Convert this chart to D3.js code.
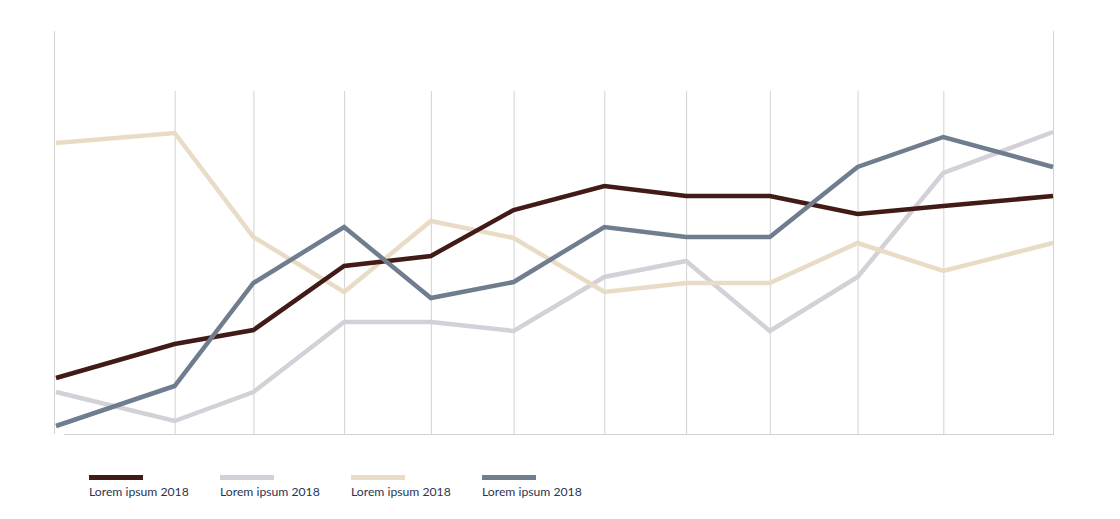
<!DOCTYPE html>
<html>
<head>
<meta charset="utf-8">
<script src="https://cdn.jsdelivr.net/npm/d3@7"></script>
<style>
  html, body { margin: 0; padding: 0; background: #fff; }
  svg { display: block; }
</style>
</head>
<body>
<svg id="chart" width="1120" height="519"></svg>
<script>
// ---- data ----
const xValues = [0, 11.9, 19.8, 28.9, 37.6, 45.9, 55.0, 63.2, 71.6, 80.4, 89.0, 100];
const seriesNames = ["Lorem ipsum 2018", "Lorem ipsum 2018", "Lorem ipsum 2018", "Lorem ipsum 2018"];
const seriesColors = ["#421a17", "#d3d0d8", "#e9dcc6", "#6f7d8f"];
const seriesDark     = [14, 22.5, 26, 42, 44.5, 56, 62, 59.5, 59.5, 55, 57, 59.5];
const seriesLavender = [10.5, 3.25, 10.5, 28, 28, 25.75, 39.25, 43.25, 25.75, 39.25, 65.25, 75.5];
const seriesBeige    = [72.75, 75.25, 49.25, 35.5, 53.25, 49, 35.5, 37.75, 37.75, 47.75, 40.75, 47.75];
const seriesSlate    = [2, 12, 37.75, 51.75, 34, 38, 51.75, 49.25, 49.25, 66.75, 74.25, 66.75];
const allSeries = [seriesDark, seriesLavender, seriesBeige, seriesSlate];

// ---- layout ----
const svg = d3.select("#chart");
const plotLeft = 54, plotRight = 1053, plotTop = 31, plotBottom = 434, gridTop = 91;

const x = d3.scaleLinear().domain([0, 100]).range([plotLeft + 2, plotRight]);
const y = d3.scaleLinear().domain([0, 100]).range([plotBottom, plotBottom - 400]);

// interior gridlines
const gx = svg.append("g")
  .attr("transform", `translate(0,${plotBottom})`)
  .call(d3.axisBottom(x).tickValues(xValues.slice(1, -1)).tickSize(-(plotBottom - gridTop)).tickFormat(""));
gx.select(".domain").remove();
gx.selectAll(".tick line").attr("stroke", "#d2d2d2").attr("stroke-width", 1);

// frame lines
svg.append("line").attr("x1", plotLeft + 0.5).attr("x2", plotLeft + 0.5)
  .attr("y1", plotTop).attr("y2", plotBottom).attr("stroke", "#d2d2d2");
svg.append("line").attr("x1", plotRight + 0.5).attr("x2", plotRight + 0.5)
  .attr("y1", plotTop).attr("y2", plotBottom).attr("stroke", "#d2d2d2");
svg.append("line").attr("x1", plotLeft + 10).attr("x2", plotRight + 1)
  .attr("y1", plotBottom + 0.5).attr("y2", plotBottom + 0.5).attr("stroke", "#d2d2d2");

// lines
const line = d3.line().x((d, i) => x(xValues[i])).y(d => y(d));
const drawOrder = [1, 2, 0, 3];
drawOrder.forEach(k => {
  svg.append("path")
    .datum(allSeries[k])
    .attr("fill", "none")
    .attr("stroke", seriesColors[k])
    .attr("stroke-width", 4.5)
    .attr("stroke-linejoin", "miter")
    .attr("d", line);
});

// legend
const legend = svg.append("g").attr("transform", "translate(89,475)");
seriesNames.forEach((name, i) => {
  const g = legend.append("g").attr("transform", `translate(${i * 131},0)`);
  g.append("rect").attr("x", 0).attr("y", 0).attr("width", 54).attr("height", 5).attr("fill", seriesColors[i]);
  g.append("text").attr("x", 0).attr("y", 21)
    .attr("font-family", "Lato, 'Open Sans', sans-serif")
    .attr("font-size", "12.2px")
    .attr("fill", "#2b3553")
    .text(name);
});
</script>
</body>
</html>
